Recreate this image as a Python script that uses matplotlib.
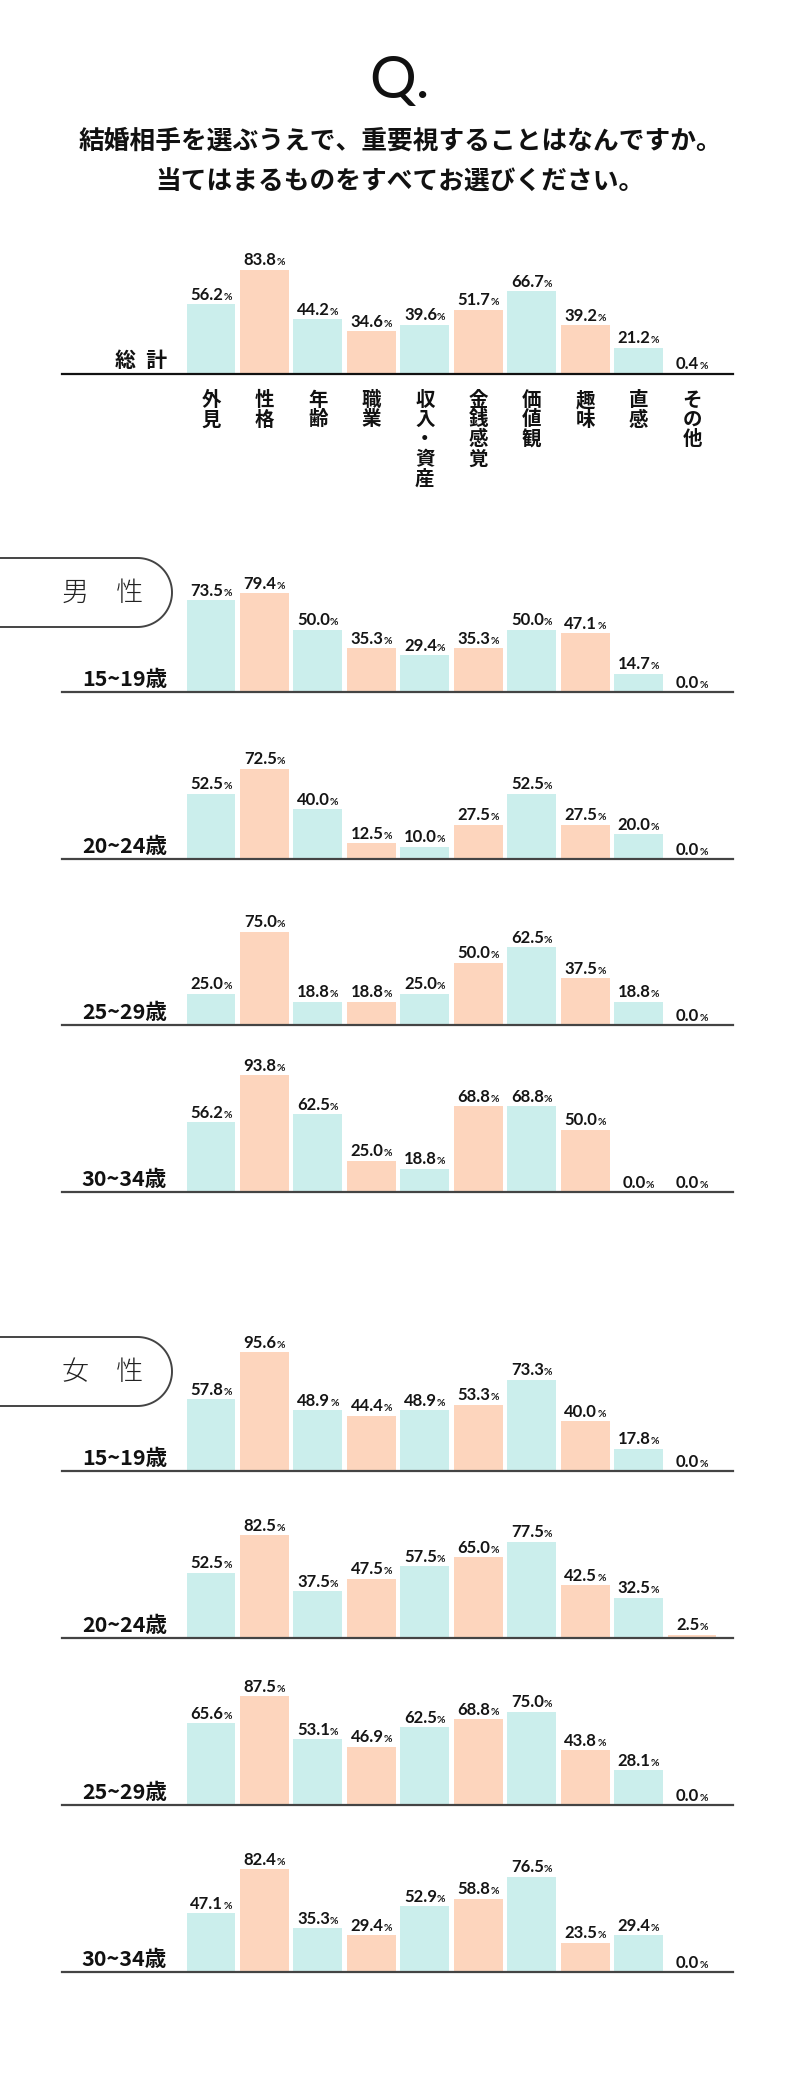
import matplotlib
matplotlib.use("Agg")
import matplotlib.pyplot as plt
from matplotlib.offsetbox import TextArea, HPacker, AnnotationBbox
import numpy as np

# ---------------- data ----------------
categories = ["外見", "性格", "年齢", "職業", "収入・資産", "金銭感覚", "価値観", "趣味", "直感", "その他"]
total = [56.2, 83.8, 44.2, 34.6, 39.6, 51.7, 66.7, 39.2, 21.2, 0.4]

male_15_19 = [73.5, 79.4, 50.0, 35.3, 29.4, 35.3, 50.0, 47.1, 14.7, 0.0]
male_20_24 = [52.5, 72.5, 40.0, 12.5, 10.0, 27.5, 52.5, 27.5, 20.0, 0.0]
male_25_29 = [25.0, 75.0, 18.8, 18.8, 25.0, 50.0, 62.5, 37.5, 18.8, 0.0]
male_30_34 = [56.2, 93.8, 62.5, 25.0, 18.8, 68.8, 68.8, 50.0, 0.0, 0.0]

female_15_19 = [57.8, 95.6, 48.9, 44.4, 48.9, 53.3, 73.3, 40.0, 17.8, 0.0]
female_20_24 = [52.5, 82.5, 37.5, 47.5, 57.5, 65.0, 77.5, 42.5, 32.5, 2.5]
female_25_29 = [65.6, 87.5, 53.1, 46.9, 62.5, 68.8, 75.0, 43.8, 28.1, 0.0]
female_30_34 = [47.1, 82.4, 35.3, 29.4, 52.9, 58.8, 76.5, 23.5, 29.4, 0.0]

age_groups = ["15~19歳", "20~24歳", "25~29歳", "30~34歳"]
total_label = "総\u2002計"
male_label = "男\u3000性"
female_label = "女\u3000性"
title_q = "Q."
title_lines = ["結婚相手を選ぶうえで、重要視することはなんですか。",
               "当てはまるものをすべてお選びください。"]

# ---------------- layout ----------------
W, H = 800, 2080
fig = plt.figure(figsize=(8, 20.8), dpi=100)
CJK = ["Noto Sans CJK JP", "DejaVu Sans"]
NUM = ["Lato", "DejaVu Sans"]
TEAL = "#cbeeec"
PEACH = "#fdd5bd"

AX_L, AX_R = 62, 733
C0, C9 = 211, 692
step = (C9 - C0) / 9
XLIM = (-(C0 - AX_L) / step, 9 + (AX_R - C9) / step)
PX_PER_PCT = 1.245
YMAX = 100

ov = fig.add_axes([0, 0, 1, 1], zorder=0)
ov.set_xlim(0, W)
ov.set_ylim(H, 0)
ov.axis("off")


def panel(baseline, values, linecolor, show_cats=False):
    ax = fig.add_axes([AX_L / W, (H - baseline) / H, (AX_R - AX_L) / W,
                       YMAX * PX_PER_PCT / H], zorder=2)
    x = np.arange(len(values))
    colors = [TEAL if i % 2 == 0 else PEACH for i in x]
    ax.bar(x, values, width=0.915, color=colors, zorder=1)
    ax.set_xlim(*XLIM)
    ax.set_ylim(0, YMAX)
    for s in ["top", "right", "left"]:
        ax.spines[s].set_visible(False)
    ax.spines["bottom"].set_color(linecolor)
    ax.spines["bottom"].set_linewidth(1.6)
    ax.spines["bottom"].set_zorder(3)
    ax.set_yticks([])
    ax.patch.set_visible(False)
    if show_cats:
        ax.set_xticks(x)
        ax.set_xticklabels(["\n".join(c) for c in categories], fontsize=14,
                           fontweight="bold", family=CJK, linespacing=1.05,
                           va="top", color="#111")
        ax.tick_params(axis="x", length=0, pad=12)
    else:
        ax.set_xticks([])
    for i, v in enumerate(values):
        num = TextArea(f"{v:.1f}", textprops=dict(fontsize=12, fontweight="bold",
                                                   family=NUM, color="#151515"))
        pct = TextArea("%", textprops=dict(fontsize=7.5, fontweight="bold",
                                            family=NUM, color="#151515"))
        box = HPacker(children=[num, pct], align="baseline", pad=0, sep=0)
        ab = AnnotationBbox(box, (i, v), xybox=(0, 1.0), xycoords="data",
                            boxcoords="offset points", box_alignment=(0.5, 0),
                            frameon=False, annotation_clip=False, pad=0)
        ax.add_artist(ab)
    return ax


def row_label(text, baseline):
    ov.text(167, baseline - 6, text, ha="right", va="baseline", fontsize=15.5,
            fontweight="bold", family=CJK, color="#111")


def pill(text, top, bottom):
    r = (bottom - top) / 2
    mid = (top + bottom) / 2
    xe = 172 - r
    th = np.linspace(np.pi / 2, -np.pi / 2, 60)
    xs = np.concatenate([[0], xe + r * np.cos(th), [0]])
    ys = np.concatenate([[top], mid - r * np.sin(th), [bottom]])
    ov.plot(xs, ys, color="#444444", lw=1.4, solid_capstyle="butt")
    ov.text(103, mid, text, ha="center", va="center", fontsize=19.5,
            fontweight="light", family=CJK, color="#222")


# title
ov.text(400, 82, title_q, ha="center", va="center", fontsize=42, family=NUM,
        color="#111")
ov.text(400, 141, title_lines[0], ha="center", va="center", fontsize=18.5,
        fontweight="bold", family=CJK, color="#111")
ov.text(400, 182, title_lines[1], ha="center", va="center", fontsize=18.5,
        fontweight="bold", family=CJK, color="#111")

# total panel
panel(374, total, "#111111", show_cats=True)
ov.text(167, 367, total_label, ha="right", va="baseline", fontsize=15,
        fontweight="bold", family=CJK, color="#111")

# male panels
male_sets = [male_15_19, male_20_24, male_25_29, male_30_34]
male_base = [692, 859, 1025, 1192]
pill(male_label, 558, 627)
for lab, vals, b in zip(age_groups, male_sets, male_base):
    panel(b, vals, "#444444")
    row_label(lab, b)

# female panels
female_sets = [female_15_19, female_20_24, female_25_29, female_30_34]
female_base = [1471, 1638, 1805, 1972]
pill(female_label, 1337, 1406)
for lab, vals, b in zip(age_groups, female_sets, female_base):
    panel(b, vals, "#444444")
    row_label(lab, b)

fig.savefig("out.png", dpi=100, facecolor="white")
